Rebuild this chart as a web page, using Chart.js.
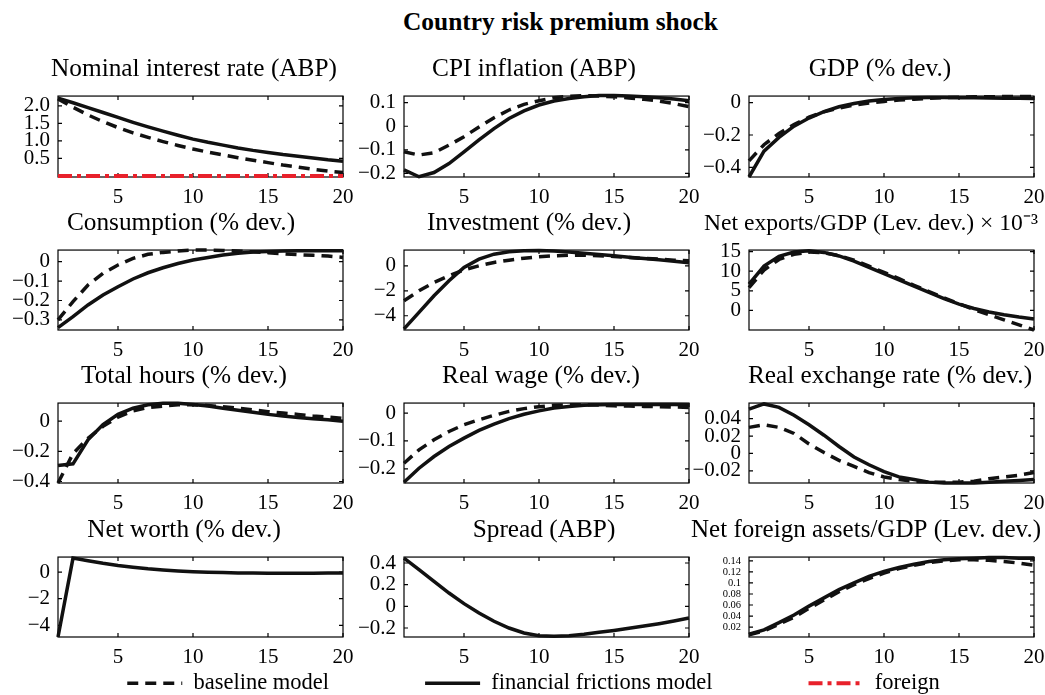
<!DOCTYPE html>
<html>
<head>
<meta charset="utf-8">
<title>Country risk premium shock</title>
<script src="https://cdn.jsdelivr.net/npm/chart.js@4.4.1/dist/chart.umd.min.js"></script>
<style>
  body { margin: 0; background: #fff; width: 1045px; height: 695px; overflow: hidden; position: relative; font-family: "Liberation Serif", "Times New Roman", serif; }
  canvas { position: absolute; }
  #mainTitle { position: absolute; left: 403px; top: 7px; font-weight: bold; font-size: 25.4px; line-height: 28px; color: #000; white-space: nowrap; }
</style>
</head>
<body>
<div id="mainTitle">Country risk premium shock</div>
<script>
// quarters after the shock
const periods = [1, 2, 3, 4, 5, 6, 7, 8, 9, 10, 11, 12, 13, 14, 15, 16, 17, 18, 19, 20];
const xTickValues = [5, 10, 15, 20];
const xTickLabels = ['5', '10', '15', '20'];

// ff = financial frictions model, base = baseline model
const nominalFF = [2.22, 2.09, 1.95, 1.81, 1.67, 1.53, 1.40, 1.28, 1.16, 1.05, 0.96, 0.88, 0.80, 0.73, 0.67, 0.61, 0.56, 0.51, 0.46, 0.42];
const nominalBase = [2.20, 1.96, 1.74, 1.55, 1.38, 1.23, 1.10, 0.98, 0.87, 0.77, 0.68, 0.60, 0.52, 0.45, 0.38, 0.31, 0.25, 0.19, 0.14, 0.10];
const nominalForeign = [0, 0, 0, 0, 0, 0, 0, 0, 0, 0, 0, 0, 0, 0, 0, 0, 0, 0, 0, 0];
const nominalTicks = [0.5, 1.0, 1.5, 2.0];
const nominalTickLabels = ['0.5', '1.0', '1.5', '2.0'];

const cpiFF = [-0.185, -0.214, -0.196, -0.158, -0.108, -0.058, -0.010, 0.033, 0.065, 0.090, 0.107, 0.118, 0.125, 0.130, 0.130, 0.128, 0.125, 0.121, 0.116, 0.108];
const cpiBase = [-0.108, -0.122, -0.112, -0.080, -0.044, -0.003, 0.036, 0.069, 0.093, 0.108, 0.121, 0.127, 0.130, 0.128, 0.125, 0.120, 0.114, 0.107, 0.096, 0.083];
const cpiTicks = [-0.2, -0.1, 0, 0.1];
const cpiTickLabels = ['−0.2', '−0.1', '0', '0.1'];

const gdpFF = [-0.46, -0.30, -0.215, -0.145, -0.095, -0.055, -0.025, -0.005, 0.010, 0.020, 0.026, 0.030, 0.032, 0.032, 0.031, 0.030, 0.029, 0.028, 0.027, 0.026];
const gdpBase = [-0.36, -0.26, -0.19, -0.135, -0.09, -0.057, -0.033, -0.015, -0.002, 0.008, 0.016, 0.022, 0.027, 0.031, 0.034, 0.036, 0.037, 0.038, 0.038, 0.038];
const gdpTicks = [-0.4, -0.2, 0];
const gdpTickLabels = ['−0.4', '−0.2', '0'];

const consFF = [-0.34, -0.283, -0.223, -0.172, -0.129, -0.089, -0.057, -0.031, -0.009, 0.009, 0.022, 0.034, 0.043, 0.050, 0.053, 0.055, 0.056, 0.057, 0.057, 0.056];
const consBase = [-0.30, -0.206, -0.12, -0.06, -0.017, 0.017, 0.038, 0.048, 0.055, 0.060, 0.060, 0.058, 0.055, 0.051, 0.046, 0.041, 0.036, 0.033, 0.029, 0.022];
const consTicks = [-0.3, -0.2, -0.1, 0];
const consTickLabels = ['−0.3', '−0.2', '−0.1', '0'];

const invFF = [-5.05, -3.73, -2.4, -1.2, -0.13, 0.53, 0.93, 1.12, 1.20, 1.22, 1.18, 1.10, 1.00, 0.90, 0.80, 0.69, 0.59, 0.48, 0.37, 0.25];
const invBase = [-2.8, -2.0, -1.33, -0.8, -0.32, 0, 0.27, 0.45, 0.61, 0.72, 0.80, 0.85, 0.85, 0.80, 0.75, 0.67, 0.59, 0.53, 0.45, 0.40];
const invTicks = [-4, -2, 0];
const invTickLabels = ['−4', '−2', '0'];

const netxFF = [6.7, 11.3, 13.8, 14.9, 15.2, 14.8, 13.9, 12.6, 11.0, 9.4, 7.8, 6.2, 4.6, 3.0, 1.6, 0.5, -0.4, -1.1, -1.7, -2.2];
const netxBase = [5.8, 10.3, 13.0, 14.3, 14.9, 14.7, 14.0, 12.8, 11.3, 9.7, 8.1, 6.4, 4.8, 3.2, 1.7, 0.2, -1.1, -2.4, -3.7, -5.0];
const netxTicks = [0, 5, 10, 15];
const netxTickLabels = ['0', '5', '10', '15'];

const hoursFF = [-0.294, -0.283, -0.124, -0.023, 0.045, 0.086, 0.109, 0.118, 0.118, 0.111, 0.100, 0.086, 0.072, 0.059, 0.045, 0.034, 0.025, 0.016, 0.009, 0.000];
const hoursBase = [-0.41, -0.215, -0.113, -0.034, 0.027, 0.068, 0.090, 0.100, 0.109, 0.109, 0.104, 0.095, 0.086, 0.075, 0.063, 0.054, 0.045, 0.034, 0.027, 0.018];
const hoursTicks = [-0.4, -0.2, 0];
const hoursTickLabels = ['−0.4', '−0.2', '0'];

const wageFF = [-0.248, -0.198, -0.156, -0.120, -0.090, -0.062, -0.040, -0.020, -0.004, 0.008, 0.018, 0.024, 0.028, 0.030, 0.031, 0.031, 0.031, 0.031, 0.031, 0.030];
const wageBase = [-0.180, -0.132, -0.096, -0.066, -0.042, -0.024, -0.008, 0.006, 0.016, 0.023, 0.028, 0.030, 0.030, 0.029, 0.026, 0.025, 0.024, 0.023, 0.022, 0.020];
const wageTicks = [-0.2, -0.1, 0];
const wageTickLabels = ['−0.2', '−0.1', '0'];

const rerFF = [0.051, 0.057, 0.053, 0.044, 0.033, 0.021, 0.008, -0.004, -0.013, -0.021, -0.027, -0.030, -0.033, -0.034, -0.034, -0.034, -0.033, -0.032, -0.031, -0.030];
const rerBase = [0.030, 0.033, 0.030, 0.023, 0.011, 0.001, -0.008, -0.015, -0.022, -0.027, -0.030, -0.032, -0.033, -0.033, -0.033, -0.032, -0.029, -0.027, -0.025, -0.022];
const rerTicks = [-0.02, 0, 0.02, 0.04];
const rerTickLabels = ['−0.02', '0', '0.02', '0.04'];

const netWorthFF = [-4.88, 1.05, 0.85, 0.66, 0.50, 0.37, 0.25, 0.16, 0.09, 0.03, -0.01, -0.04, -0.06, -0.07, -0.08, -0.08, -0.08, -0.08, -0.07, -0.06];
const netWorthTicks = [-4, -2, 0];
const netWorthTickLabels = ['−4', '−2', '0'];

const spreadFF = [0.446, 0.34, 0.23, 0.123, 0.025, -0.062, -0.138, -0.2, -0.246, -0.271, -0.277, -0.271, -0.258, -0.24, -0.222, -0.203, -0.182, -0.16, -0.135, -0.108];
const spreadTicks = [-0.2, 0, 0.2, 0.4];
const spreadTickLabels = ['−0.2', '0', '0.2', '0.4'];

const nfaFF = [0.007, 0.015, 0.028, 0.042, 0.058, 0.073, 0.088, 0.100, 0.112, 0.121, 0.128, 0.134, 0.139, 0.142, 0.144, 0.145, 0.146, 0.146, 0.145, 0.145];
const nfaBase = [0.006, 0.013, 0.025, 0.038, 0.054, 0.069, 0.084, 0.097, 0.108, 0.118, 0.126, 0.132, 0.137, 0.140, 0.142, 0.142, 0.141, 0.139, 0.136, 0.132];
const nfaTicks = [0.02, 0.04, 0.06, 0.08, 0.1, 0.12, 0.14];
const nfaTickLabels = ['0.02', '0.04', '0.06', '0.08', '0.1', '0.12', '0.14'];

const seriesNames = ['baseline model', 'financial frictions model', 'foreign'];

// layout of the 3x4 grid (plot area in page pixels)
const colLeft = [58, 404, 749];
const rowTop = [96, 250, 403, 557];
const rowHeight = [81, 80, 80, 80];
const plotWidth = 285;
const yAxisW = 58, titleH = 46, xAxisH = 30, padRight = 12;
// where each panel title is centred, measured from the plot's left edge
const titleCentre = [136, 130, 131, 123, 125, 122, 126, 137, 141, 126, 140, 117];
const titleSize = [25.3, 25.3, 25.3, 25.3, 25.3, 23.6, 25.3, 25.3, 25.3, 25.3, 25.3, 25.3];

const panels = [
  { title: 'Nominal interest rate (ABP)', ff: nominalFF, base: nominalBase, foreign: nominalForeign, min: -0.03, max: 2.28, ticks: nominalTicks, labels: nominalTickLabels },
  { title: 'CPI inflation (ABP)', ff: cpiFF, base: cpiBase, min: -0.215, max: 0.128, ticks: cpiTicks, labels: cpiTickLabels },
  { title: 'GDP (% dev.)', ff: gdpFF, base: gdpBase, min: -0.46, max: 0.041, ticks: gdpTicks, labels: gdpTickLabels },
  { title: 'Consumption (% dev.)', ff: consFF, base: consBase, min: -0.352, max: 0.06, ticks: consTicks, labels: consTickLabels },
  { title: 'Investment (% dev.)', ff: invFF, base: invBase, min: -5.14, max: 1.26, ticks: invTicks, labels: invTickLabels },
  { title: 'Net exports/GDP (Lev. dev.) × 10⁻³', ff: netxFF, base: netxBase, min: -5, max: 15.4, ticks: netxTicks, labels: netxTickLabels },
  { title: 'Total hours (% dev.)', ff: hoursFF, base: hoursBase, min: -0.41, max: 0.12, ticks: hoursTicks, labels: hoursTickLabels },
  { title: 'Real wage (% dev.)', ff: wageFF, base: wageBase, min: -0.251, max: 0.036, ticks: wageTicks, labels: wageTickLabels },
  { title: 'Real exchange rate (% dev.)', ff: rerFF, base: rerBase, min: -0.034, max: 0.058, ticks: rerTicks, labels: rerTickLabels },
  { title: 'Net worth (% dev.)', ff: netWorthFF, min: -4.88, max: 1.13, ticks: netWorthTicks, labels: netWorthTickLabels },
  { title: 'Spread (ABP)', ff: spreadFF, min: -0.283, max: 0.455, ticks: spreadTicks, labels: spreadTickLabels },
  { title: 'Net foreign assets/GDP (Lev. dev.)', ff: nfaFF, base: nfaBase, min: 0.002, max: 0.147, ticks: nfaTicks, labels: nfaTickLabels, tickSize: 10.5 }
];

Chart.defaults.font.family = '"Liberation Serif", "Times New Roman", serif';
Chart.defaults.color = '#000';

const styles = {
  base: { borderColor: '#111', borderWidth: 3.5, borderDash: [11, 7] },
  ff: { borderColor: '#111', borderWidth: 3.5, borderDash: [] },
  foreign: { borderColor: '#e8212b', borderWidth: 4, borderDash: [14, 5, 4, 5] }
};

// matlab style box with inward ticks
const framePlugin = {
  id: 'frame',
  beforeDatasetsDraw(chart) {
    const { ctx, chartArea: a, scales: { x, y } } = chart;
    ctx.save();
    ctx.strokeStyle = '#000';
    ctx.lineWidth = 1.2;
    ctx.strokeRect(a.left, a.top, a.right - a.left, a.bottom - a.top);
    ctx.beginPath();
    x.ticks.forEach(t => {
      const px = x.getPixelForValue(t.value);
      ctx.moveTo(px, a.bottom); ctx.lineTo(px, a.bottom - 4);
      ctx.moveTo(px, a.top); ctx.lineTo(px, a.top + 4);
    });
    y.ticks.forEach(t => {
      const py = y.getPixelForValue(t.value);
      ctx.moveTo(a.left, py); ctx.lineTo(a.left + 4, py);
      ctx.moveTo(a.right, py); ctx.lineTo(a.right - 4, py);
    });
    ctx.stroke();
    ctx.restore();
  }
};

function toPoints(arr) {
  return periods.map((p, i) => ({ x: p, y: arr[i] }));
}

function line(arr, name, style) {
  return Object.assign({ label: name, data: toPoints(arr), pointRadius: 0, tension: 0, fill: false, clip: 3 }, style);
}

panels.forEach((p, i) => {
  const col = i % 3, row = Math.floor(i / 3);
  // the full-width title centres over both side boxes, so an empty right
  // axis of this width moves it to where the reference puts it
  const rightW = 2 * titleCentre[i] - plotWidth + yAxisW;
  const c = document.createElement('canvas');
  const w = yAxisW + plotWidth + rightW + padRight;
  const h = titleH + rowHeight[row] + xAxisH;
  c.width = w; c.height = h;
  c.style.left = (colLeft[col] - yAxisW) + 'px';
  c.style.top = (rowTop[row] - titleH) + 'px';
  document.body.appendChild(c);

  const datasets = [];
  if (p.foreign) datasets.push(line(p.foreign, seriesNames[2], styles.foreign));
  if (p.base) datasets.push(line(p.base, seriesNames[0], styles.base));
  datasets.push(line(p.ff, seriesNames[1], styles.ff));

  const extra = (25.3 - titleSize[i]) * 1.2;

  new Chart(c.getContext('2d'), {
    type: 'line',
    data: { datasets },
    options: {
      responsive: false,
      animation: false,
      events: [],
      layout: { padding: { left: 0, right: padRight, top: 0, bottom: 0 } },
      plugins: {
        legend: { display: false },
        tooltip: { enabled: false },
        title: {
          display: true,
          text: p.title,
          fullSize: true,
          font: { size: titleSize[i], weight: 'normal' },
          padding: { top: 4.6 + extra / 2, bottom: 11.1 + extra / 2 }
        }
      },
      scales: {
        x: {
          type: 'linear',
          min: 1,
          max: 20,
          grid: { display: false, drawTicks: false },
          border: { display: false },
          afterBuildTicks: s => { s.ticks = xTickValues.map(v => ({ value: v })); },
          afterFit: s => { s.height = xAxisH; },
          ticks: { font: { size: 21 }, padding: 8, maxRotation: 0, autoSkip: false, callback: (v, idx) => xTickLabels[idx] }
        },
        y: {
          min: p.min,
          max: p.max,
          grid: { display: false, drawTicks: false },
          border: { display: false },
          afterBuildTicks: s => { s.ticks = p.ticks.map(v => ({ value: v })); },
          afterFit: s => { s.width = yAxisW; },
          ticks: { font: { size: p.tickSize || 21 }, padding: 8, autoSkip: false, callback: (v, idx) => p.labels[idx] }
        },
        yRight: {
          position: 'right',
          grid: { display: false, drawTicks: false },
          border: { display: false },
          ticks: { display: false },
          afterFit: s => { s.width = rightW; }
        }
      }
    },
    plugins: [framePlugin]
  });
});

// shared legend along the bottom
const lg = document.createElement('canvas');
const legendPad = 96;
lg.width = 1045; lg.height = 400;
lg.style.left = '11px';
lg.style.top = (683 - legendPad - 11) + 'px';
document.body.appendChild(lg);
new Chart(lg.getContext('2d'), {
  type: 'line',
  data: {
    datasets: [
      Object.assign({ label: seriesNames[0], data: [] }, styles.base),
      Object.assign({ label: seriesNames[1], data: [] }, styles.ff),
      Object.assign({ label: seriesNames[2], data: [] }, styles.foreign)
    ]
  },
  options: {
    responsive: false,
    animation: false,
    events: [],
    scales: { x: { display: false }, y: { display: false } },
    plugins: {
      tooltip: { enabled: false },
      legend: {
        display: true,
        position: 'top',
        labels: {
          font: { size: 22.5 },
          color: '#000',
          padding: legendPad,
          usePointStyle: true,
          pointStyleWidth: 55,
          generateLabels: chart => chart.data.datasets.map((d, i) => ({
            text: d.label,
            fillStyle: d.borderColor,
            strokeStyle: d.borderColor,
            lineWidth: d.borderWidth,
            lineDash: d.borderDash,
            pointStyle: 'line',
            fontColor: '#000',
            datasetIndex: i
          }))
        }
      }
    }
  }
});
</script>
</body>
</html>
